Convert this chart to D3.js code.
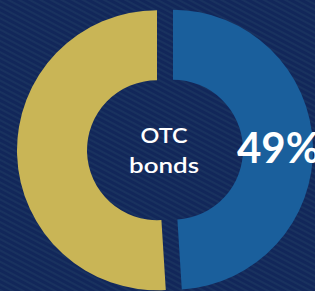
<!DOCTYPE html>
<html>
<head>
<meta charset="utf-8">
<script src="https://cdn.jsdelivr.net/npm/d3@7"></script>
<style>
html,body{margin:0;padding:0;background:#13285a;overflow:hidden;}
svg{display:block;}
</style>
</head>
<body>
<svg id="chart" width="315" height="291"></svg>
<script>
const categories = ["OTC bonds", "Other"];
const values = [49, 51];
const colors = ["#1a5f9c", "#c9b556"];
const centerLines = ["OTC", "bonds"];
const valueLabel = "49%";

const W = 315, H = 291;
const cx = 165, cy = 150, rOuter = 140, rInner = 70, explode = 8;

const svg = d3.select("#chart");
const defs = svg.append("defs");
const pat = defs.append("pattern")
  .attr("id", "stripes").attr("patternUnits", "userSpaceOnUse")
  .attr("width", 8).attr("height", 5)
  .attr("patternTransform", "rotate(28)");
pat.append("rect").attr("width", 8).attr("height", 5).attr("fill", "#12275a");
pat.append("rect").attr("width", 8).attr("height", 2).attr("fill", "#19325f");

svg.append("rect").attr("width", W).attr("height", H).attr("fill", "url(#stripes)");

const pie = d3.pie().sort(null).value(d => d)(values);
const arc = d3.arc().innerRadius(rInner).outerRadius(rOuter);

const g = svg.append("g").attr("transform", `translate(${cx},${cy})`);
g.selectAll("path").data(pie).join("path")
  .attr("d", arc)
  .attr("fill", (d, i) => colors[i])
  .attr("transform", d => {
    const a = (d.startAngle + d.endAngle) / 2;
    return `translate(${explode * Math.sin(a)},${-explode * Math.cos(a)})`;
  });

const lens = [47, 70];
g.selectAll("text.c").data(centerLines).join("text")
  .attr("class", "c")
  .attr("x", -1)
  .attr("y", (d, i) => -7 + i * 30)
  .attr("text-anchor", "middle")
  .attr("font-family", "Lato, sans-serif")
  .attr("font-weight", 600)
  .attr("font-size", 21)
  .attr("fill", "#ffffff")
  .attr("textLength", (d, i) => lens[i])
  .attr("lengthAdjust", "spacingAndGlyphs")
  .text(d => d);

g.append("text")
  .attr("x", 237 - cx)
  .attr("y", 163 - cy)
  .attr("font-family", "Lato, sans-serif")
  .attr("font-weight", "bold")
  .attr("font-size", 42)
  .attr("fill", "#ffffff")
  .text(valueLabel);
</script>
</body>
</html>
